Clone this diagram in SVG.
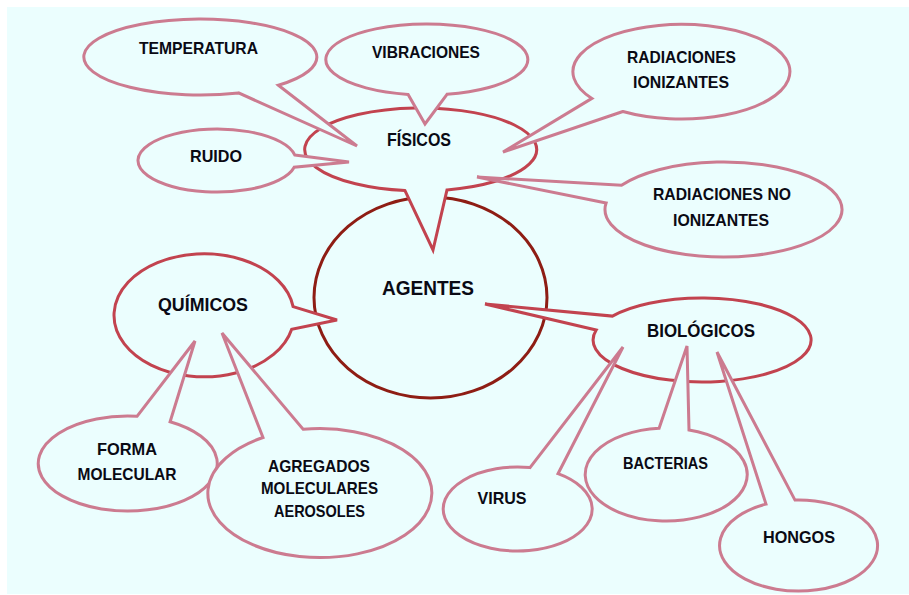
<svg xmlns="http://www.w3.org/2000/svg" width="909" height="595" viewBox="0 0 909 595">
<style>
.bg{fill:#EBFEFE}
.c{fill:#EBFEFE;stroke-width:3;stroke-linejoin:miter}
.out{stroke:#CC7B90}
.cat{stroke:#C2434F}
.core{stroke:#8E1D14}
text{font-family:"Liberation Sans",Arial,sans-serif;font-weight:bold;fill:#0A0A14;text-anchor:middle}
.t{font-size:16.5px}
.tc{font-size:18px}
.ta{font-size:19.5px}
</style>
<rect x="0" y="0" width="909" height="595" fill="#FFFFFF"/>
<rect class="bg" x="7" y="7" width="902" height="587"/>

<g id="agentes">
<ellipse class="c core" cx="430.5" cy="297.5" rx="116.5" ry="100.5"/>
<text class="ta" x="428" y="295" textLength="92" lengthAdjust="spacingAndGlyphs">AGENTES</text>
</g>

<g id="fisicos">
<path class="c cat" d="M447,189.9 L433,250 L405,190.6 A116,41.5 0 1 1 447,189.9 Z"/>
<text class="tc" x="419" y="146" textLength="64" lengthAdjust="spacingAndGlyphs">FÍSICOS</text>
</g>

<g id="quimicos">
<path class="c cat" d="M293.1,306.6 L337,320 L291.7,329.2 A90,61.5 0 1 1 293.1,306.6 Z"/>
<text class="tc" x="203" y="311" textLength="90" lengthAdjust="spacingAndGlyphs">QUÍMICOS</text>
</g>

<g id="biologicos">
<path class="c cat" d="M596.2,330 L485,304 L612.4,316.1 A109,42 0 1 1 596.2,330 Z"/>
<text class="tc" x="701" y="337" textLength="108" lengthAdjust="spacingAndGlyphs">BIOLÓGICOS</text>
</g>

<g id="temperatura">
<path class="c out" d="M278.4,85.2 L357,146 L238.5,92.9 A116.5,38 0 1 1 278.4,85.2 Z"/>
<text class="t" x="198.5" y="54" textLength="119" lengthAdjust="spacingAndGlyphs">TEMPERATURA</text>
</g>

<g id="vibraciones">
<path class="c out" d="M447,94.3 L425,124 L408.1,94.4 A101,35.5 0 1 1 447,94.3 Z"/>
<text class="t" x="426" y="58" textLength="108" lengthAdjust="spacingAndGlyphs">VIBRACIONES</text>
</g>

<g id="radiaciones-ionizantes">
<path class="c out" d="M622.9,111.5 L503,152 L591.9,98.4 A108.5,47.3 0 1 1 622.9,111.5 Z"/>
<text class="t" x="681.5" y="63" textLength="109" lengthAdjust="spacingAndGlyphs">RADIACIONES</text>
<text class="t" x="681" y="88" textLength="96" lengthAdjust="spacingAndGlyphs">IONIZANTES</text>
</g>

<g id="ruido">
<path class="c out" d="M294.7,154.9 L349,162 L294.2,167.2 A79,31.5 0 1 1 294.7,154.9 Z"/>
<text class="t" x="216" y="162" textLength="52" lengthAdjust="spacingAndGlyphs">RUIDO</text>
</g>

<g id="radiaciones-no-ionizantes">
<path class="c out" d="M606.1,203 L477,177 L621.5,185.3 A118.5,47.5 0 1 1 606.1,203 Z"/>
<text class="t" x="722" y="200" textLength="138" lengthAdjust="spacingAndGlyphs">RADIACIONES NO</text>
<text class="t" x="721" y="226" textLength="96" lengthAdjust="spacingAndGlyphs">IONIZANTES</text>
</g>

<g id="forma-molecular">
<path class="c out" d="M137,416.3 L195,341 L170.1,421.7 A89.5,47.5 0 1 1 137,416.3 Z"/>
<text class="t" x="127" y="455" textLength="60" lengthAdjust="spacingAndGlyphs">FORMA</text>
<text class="t" x="127" y="480" textLength="99" lengthAdjust="spacingAndGlyphs">MOLECULAR</text>
</g>

<g id="agregados">
<path class="c out" d="M263,437.5 L222,333 L303.1,429.3 A112,64.5 0 1 1 263,437.5 Z"/>
<text class="t" x="319" y="472" textLength="102" lengthAdjust="spacingAndGlyphs">AGREGADOS</text>
<text class="t" x="319.5" y="494" textLength="117" lengthAdjust="spacingAndGlyphs">MOLECULARES</text>
<text class="t" x="319.5" y="517" textLength="91" lengthAdjust="spacingAndGlyphs">AEROSOLES</text>
</g>

<g id="virus">
<path class="c out" d="M530,467.6 L623,347 L558,473.7 A74.5,42 0 1 1 530,467.6 Z"/>
<text class="t" x="502" y="504" textLength="49" lengthAdjust="spacingAndGlyphs">VIRUS</text>
</g>

<g id="bacterias">
<path class="c out" d="M659.1,428.2 L687,346 L689,429.9 A81,46.5 0 1 1 659.1,428.2 Z"/>
<text class="t" x="665.5" y="469" textLength="85" lengthAdjust="spacingAndGlyphs">BACTERIAS</text>
</g>

<g id="hongos">
<path class="c out" d="M766,504.1 L717,352 L795,500.1 A79,45.5 0 1 1 766,504.1 Z"/>
<text class="t" x="799" y="543" textLength="72" lengthAdjust="spacingAndGlyphs">HONGOS</text>
</g>
</svg>
